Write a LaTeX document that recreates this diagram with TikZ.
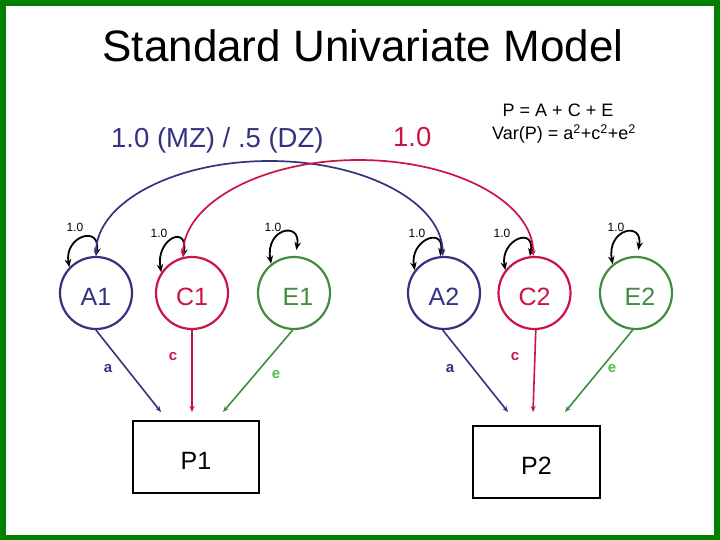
\documentclass[tikz,border=0pt]{standalone}
\usepackage{fontspec}
\setmainfont{Liberation Sans}
\usetikzlibrary{arrows.meta,calc}
\definecolor{navy}{RGB}{51,51,128}
\definecolor{crim}{RGB}{204,20,68}
\definecolor{grn}{RGB}{64,140,64}
\definecolor{lgrn}{RGB}{80,190,80}
\definecolor{framegreen}{RGB}{0,128,0}
\newcommand{\lowlab}[1]{\raisebox{-3.5pt}[\height][0pt]{#1}}
\begin{document}
\begin{tikzpicture}[x=1pt,y=1pt,
  lat/.style={circle,draw,line width=2.2pt,minimum size=72pt,inner sep=0pt,font=\fontsize{25}{25}\selectfont},
  obs/.style={rectangle,draw=black,line width=2pt,inner sep=0pt,font=\fontsize{25}{25}\selectfont},
  loopst/.style={draw=black,line width=1.8pt,{Stealth[length=8pt,width=6.5pt]}-{Stealth[length=8pt,width=6.5pt]}},
  covst/.style={line width=1.7pt,{Stealth[length=6pt,width=5pt]}-{Stealth[length=6pt,width=5pt]}},
  pathst/.style={line width=1.6pt,-{Stealth[length=6pt,width=5pt]}},
  one/.style={font=\fontsize{12}{12}\selectfont},
  plab/.style={font=\fontsize{15}{15}\selectfont\bfseries}]
\useasboundingbox (0,0) rectangle (720,-540);
\fill[framegreen] (0,0) rectangle (720,-540);
\fill[white] (6,-6) rectangle (714,-535);

% title and texts
\node[anchor=base,font=\fontsize{44}{44}\selectfont] (title) at (363,-62) {Standard Univariate Model};
\node[anchor=base west,text=navy,font=\fontsize{27.5}{27.5}\selectfont,inner sep=0pt] (mzdz) at (111,-148) {1.0 (MZ) / .5 (DZ)};
\node[anchor=base west,text=crim,font=\fontsize{27.5}{27.5}\selectfont,inner sep=0pt] (cone) at (393,-147) {1.0};
\node[anchor=base,font=\fontsize{18}{18}\selectfont,inner sep=0pt] (eq1) at (558,-117) {P = A + C + E};
\node[anchor=base,font=\fontsize{18}{18}\selectfont,inner sep=0pt] (eq2) at (564,-140) {Var(P) = a\textsuperscript{2}+c\textsuperscript{2}+e\textsuperscript{2}};

% latent variables
\node[lat,draw=navy,text=navy] (A1) at (96,-293) {\lowlab{A1}};
\node[lat,draw=crim,text=crim] (C1) at (192,-293) {\lowlab{C1}};
\node[lat,draw=grn,text=grn] (E1) at (294,-293) {\lowlab{\hspace{8pt}E1}};
\node[lat,draw=navy,text=navy] (A2) at (444,-293) {\lowlab{A2}};
\node[lat,draw=crim,text=crim] (C2) at (534.5,-293) {\lowlab{C2}};
\node[lat,draw=grn,text=grn] (E2) at (636,-293) {\lowlab{\hspace{8pt}E2}};

% observed
\node[obs,minimum width=126pt,minimum height=72pt] (P1) at (196,-457) {\lowlab{P1}};
\node[obs,minimum width=127pt,minimum height=72pt] (P2) at (536.5,-462) {\lowlab{P2}};

% variance loops
\draw[loopst] (A1.136) .. controls +(100:32) and +(80:32) .. (A1.90);
\draw[loopst] (C1.146) .. controls +(100:34) and +(80:34) .. (C1.104);
\draw[loopst,shorten >=6pt] (E1.128) .. controls +(100:36) and +(80:36) .. (E1.88);
\draw[loopst] (A2.142) .. controls +(100:31) and +(80:31) .. (A2.96);
\draw[loopst] (C2.142) .. controls +(100:31) and +(80:31) .. (C2.97);
\draw[loopst,shorten >=6pt] (E2.129) .. controls +(100:36) and +(80:36) .. (E2.88);
\node[one] (lA1) at (75,-227) {1.0};
\node[one] (lC1) at (159,-233) {1.0};
\node[one] (lE1) at (273,-227) {1.0};
\node[one] (lA2) at (417,-233) {1.0};
\node[one] (lC2) at (502,-233) {1.0};
\node[one] (lE2) at (616,-227) {1.0};

% covariance arcs
\coordinate (bp) at (269.5,-161);
\coordinate (rp) at (358.5,-160);
\draw[covst,draw=navy] (A1.90) .. controls +(0,53) and +(-96,0) .. (bp) .. controls +(96,0) and +(0,53) .. (A2.92);
\draw[covst,draw=crim] (C1.104) .. controls +(0,53.5) and +(-97,0) .. (rp) .. controls +(97,0) and +(0,53.5) .. (C2.92);

% paths to P1
\coordinate (p1a) at (161,-412);
\coordinate (p1c) at (192,-412);
\coordinate (p1e) at (223,-412);
\draw[pathst,draw=navy] (A1.270) -- (p1a);
\draw[pathst,draw=crim] (C1.270) -- (p1c);
\draw[pathst,draw=grn] (E1.268) -- (p1e);
\node[plab,text=navy] (la1) at (108,-369) {a};
\node[plab,text=crim] (lc1) at (173,-357) {c};
\node[plab,text=lgrn] (le1) at (276,-375) {e};

% paths to P2
\coordinate (p2a) at (508,-412);
\coordinate (p2c) at (533,-412);
\coordinate (p2e) at (565,-412);
\draw[pathst,draw=navy] (A2.268) -- (p2a);
\draw[pathst,draw=crim] (C2.272) -- (p2c);
\draw[pathst,draw=grn] (E2.265) -- (p2e);
\node[plab,text=navy] (la2) at (450,-369) {a};
\node[plab,text=crim] (lc2) at (515,-357) {c};
\node[plab,text=lgrn] (le2) at (612,-369) {e};
\end{tikzpicture}
\end{document}
